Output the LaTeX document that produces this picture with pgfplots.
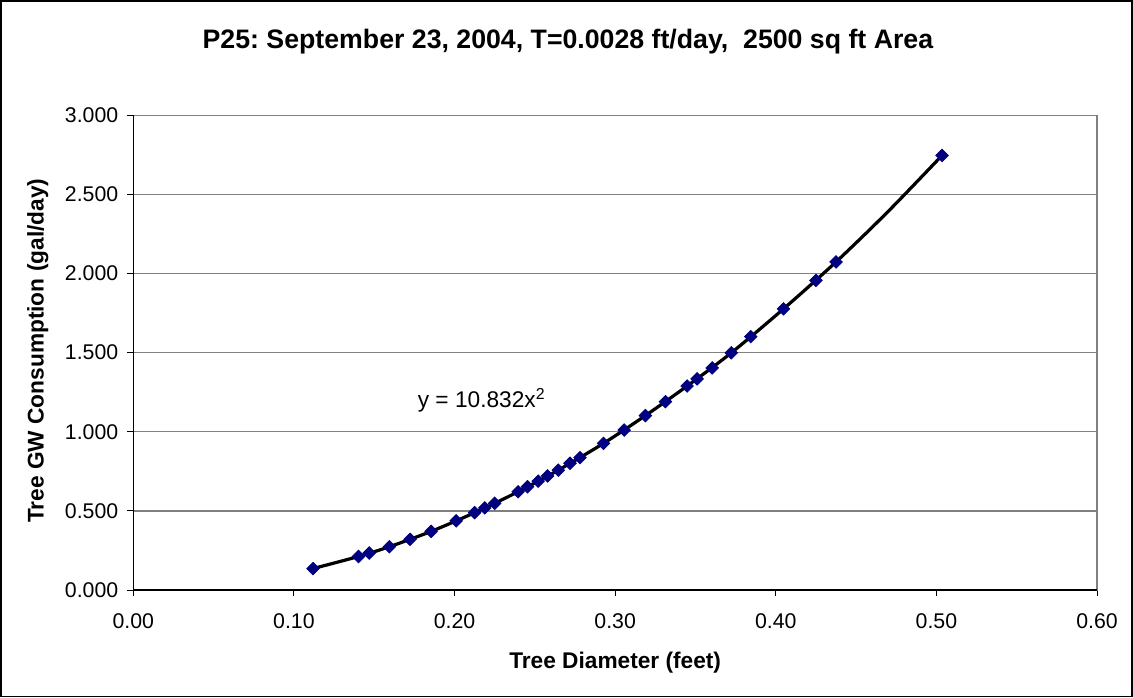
\documentclass[border=0pt]{standalone}
\usepackage{fontspec}
\setmainfont{Liberation Sans}
\usepackage{pgfplots}
\pgfplotsset{compat=1.18}
\frenchspacing

\definecolor{gridgray}{RGB}{128,128,128}
\definecolor{marknavy}{RGB}{0,0,128}

\begin{document}
\begin{tikzpicture}
\begin{axis}[
    scale only axis,
    width=480pt, height=236.5pt,
    xmin=0, xmax=0.6, ymin=0, ymax=3,
    xtick={0,0.1,0.2,0.3,0.4,0.5,0.6},
    ytick={0,0.5,1,1.5,2,2.5,3},
    /pgf/number format/assume math mode=true,
    xticklabel style={yshift=-5pt,/pgf/number format/.cd,fixed,fixed zerofill,precision=2},
    yticklabel style={xshift=-1pt,/pgf/number format/.cd,fixed,fixed zerofill,precision=3},
    ticklabel style={font=\fontsize{10.6}{12}\selectfont},
    tick align=outside, tick pos=left,
    major tick length=3pt,
    tick style={black, line width=0.5pt},
    ymajorgrids,
    major grid style={gridgray, line width=0.6pt},
    axis line style={gridgray, line width=0.6pt},
    clip=false,
]
% markers (data)
\addplot[only marks, mark=square*, mark size=2.2pt,
    mark options={rotate=45, fill=marknavy, draw=marknavy}] coordinates {
(0.1119,0.1359) (0.1402,0.2123) (0.1469,0.2341) (0.1594,0.2738)
(0.1723,0.3205) (0.1854,0.3707) (0.2010,0.4376) (0.2125,0.4891)
(0.2188,0.5195) (0.2250,0.5484) (0.2396,0.6213) (0.2454,0.6528)
(0.2521,0.6879) (0.2579,0.7210) (0.2646,0.7578) (0.2719,0.8014)
(0.2781,0.8371) (0.2927,0.9268) (0.3056,1.0110) (0.3188,1.1023)
(0.3313,1.1904) (0.3448,1.2893) (0.3510,1.3345) (0.3604,1.4038)
(0.3723,1.4990) (0.3844,1.6014) (0.4048,1.7767) (0.4250,1.9565)
(0.4375,2.0733) (0.5035,2.7460)
};
% trendline through the fitted values
\addplot[black, line width=1.6pt, no marks, smooth] coordinates {
(0.1119,0.1359) (0.1402,0.2123) (0.1594,0.2738) (0.1854,0.3707)
(0.2125,0.4891) (0.2396,0.6213) (0.2646,0.7578) (0.2927,0.9268)
(0.3188,1.1023) (0.3448,1.2893) (0.3723,1.4990) (0.4048,1.7767)
(0.4375,2.0733) (0.4700,2.3928) (0.5035,2.7460)
};
% black axis lines on left and bottom
\draw[black, line width=0.6pt] (rel axis cs:0,1) -- (rel axis cs:0,0) -- (rel axis cs:1,0);
% equation label
\node[anchor=base west, inner sep=0pt, font=\fontsize{11.3}{13}\selectfont]
    at (axis cs:0.1769,1.154) {y = 10.832x\textsuperscript{2}};
% title and axis labels
\node[font=\fontsize{13.3}{16}\selectfont\bfseries]
    at (rel axis cs:0.451,1.1543) {P25: September 23, 2004, T=0.0028 ft/day,\ \ 2500 sq ft Area};
\node[font=\fontsize{11.3}{13}\selectfont\bfseries]
    at (rel axis cs:0.5,-0.1522) {Tree Diameter (feet)};
\node[font=\fontsize{11.3}{13}\selectfont\bfseries, rotate=90]
    at (rel axis cs:-0.099,0.504) {Tree GW Consumption (gal/day)};
% chart area frame
\draw[black, line width=0.8pt] (rel axis cs:-0.1375,-0.2241) rectangle (rel axis cs:1.0365,1.241);
\end{axis}
\end{tikzpicture}
\end{document}
